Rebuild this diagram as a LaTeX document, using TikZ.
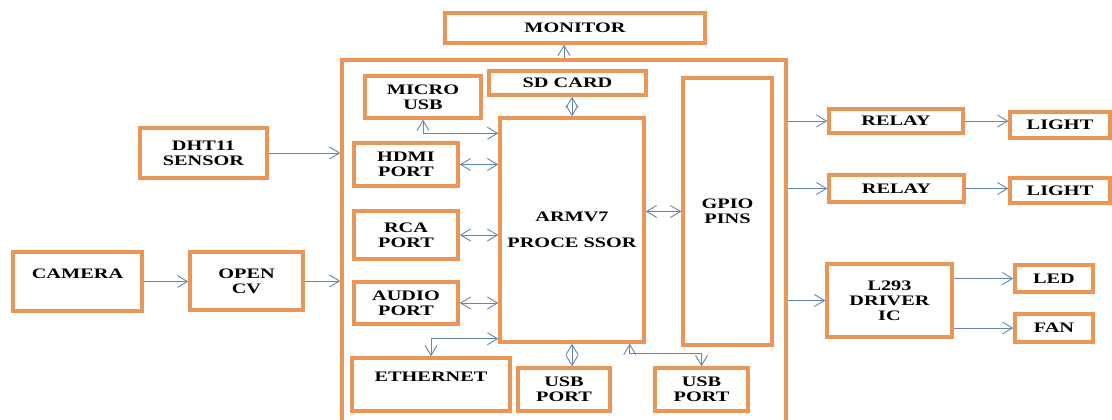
\documentclass[tikz,border=0pt]{standalone}
\usepackage{fontspec}
\setmainfont{Liberation Serif}[FakeStretch=1.4]
\usetikzlibrary{arrows.meta}
\definecolor{boxorange}{RGB}{234,150,86}
\definecolor{linkblue}{RGB}{98,134,180}

\begin{document}
\begin{tikzpicture}[x=1pt, y=-1pt, >={Straight Barb[length=10pt, width=12pt]},
	block/.style={rectangle, draw=boxorange, line width=3.5pt, inner sep=1pt, align=center, font=\fontsize{14.5}{15}\selectfont\bfseries},
	link/.style={draw=linkblue, line width=0.9pt}]
\useasboundingbox (0,0) rectangle (1112,420);
\clip (0,0) rectangle (1112,420);

\path	(564,245)		node(board)		[block, minimum width=444pt, minimum height=370pt]	{}
		(575,28)		node(monitor)	[block, minimum width=260pt, minimum height=30pt]	{MONITOR}
		(567.5,83)		node(sdcard)	[block, minimum width=157pt, minimum height=24pt]	{SD CARD}
		(423,97)		node(microusb)	[block, minimum width=116pt, minimum height=42pt]	{MICRO\\USB}
		(572,230)		node(cpu)		[block, minimum width=144pt, minimum height=224pt]	{ARMV7\\[11pt]PROCE SSOR}
		(727.5,211.5)	node(gpio)		[block, minimum width=89pt, minimum height=267pt]	{GPIO\\PINS}
		(406,164.5)		node(hdmi)		[block, minimum width=104pt, minimum height=43pt]	{HDMI\\PORT}
		(406,235)		node(rca)		[block, minimum width=104pt, minimum height=48pt]	{RCA\\PORT}
		(406,303)		node(audio)		[block, minimum width=104pt, minimum height=42pt]	{AUDIO\\PORT}
		(431,384.5)		node(ethernet)	[block, minimum width=158pt, minimum height=53pt, text depth=15pt]	{ETHERNET}
		(564,389.5)		node(usba)		[block, minimum width=92pt, minimum height=43pt]	{USB\\PORT}
		(701.5,389.5)	node(usbb)		[block, minimum width=93pt, minimum height=43pt]	{USB\\PORT};

\path	(203.5,153)		node(dht)		[block, minimum width=127pt, minimum height=50pt]	{DHT11\\SENSOR}
		(77.5,281.5)	node(camera)	[block, minimum width=129pt, minimum height=59pt, text depth=15pt]	{CAMERA}
		(246.5,281)		node(opencv)	[block, minimum width=113pt, minimum height=58pt]	{OPEN\\CV};

\path	(896,121)		node(relaya)	[block, minimum width=134pt, minimum height=24pt]	{RELAY}
		(1060,125)		node(lighta)	[block, minimum width=100pt, minimum height=26pt]	{LIGHT}
		(896.5,188.5)	node(relayb)	[block, minimum width=135pt, minimum height=27pt]	{RELAY}
		(1060,190.5)	node(lightb)	[block, minimum width=100pt, minimum height=25pt]	{LIGHT}
		(889.5,300.5)	node(driver)	[block, minimum width=125pt, minimum height=73pt]	{L293\\DRIVER\\IC}
		(1054,278.5)	node(led)		[block, minimum width=78pt, minimum height=27pt]	{LED}
		(1054,328)		node(fan)		[block, minimum width=78pt, minimum height=28pt]	{FAN};

\draw[link, ->]		(board.north)					--						(board.north |- monitor.south);
\draw[link, <->]	(cpu.north)						--						(cpu.north |- sdcard.south);
\draw[link, <->]	(microusb.south)				|-						([yshift=-17pt]cpu.north west);
\draw[link, <->]	(hdmi.east)						--						(hdmi.east -| cpu.west);
\draw[link, <->]	(rca.east)						--						(rca.east -| cpu.west);
\draw[link, <->]	(audio.east)					--						(audio.east -| cpu.west);
\draw[link, <->]	(cpu.east |- gpio.west)			--						(gpio.west);
\draw[link, <->]	([yshift=5pt]cpu.south west)	-|						(ethernet.north);
\draw[link, <->]	(cpu.south)						--						(cpu.south |- usba.north);
\draw[link, <->]	([xshift=-16pt]cpu.south east)	-- ++(0,10) -|			(usbb.north);

\draw[link, ->]		(dht.east)						--						(dht.east -| board.west);
\draw[link, ->]		(camera.east)					--						(camera.east -| opencv.west);
\draw[link, ->]		(opencv.east)					--						(opencv.east -| board.west);

\draw[link, ->]		(board.east |- relaya.west)		--						(relaya.west);
\draw[link, ->]		(relaya.east)					--						(relaya.east -| lighta.west);
\draw[link, ->]		(board.east |- relayb.west)		--						(relayb.west);
\draw[link, ->]		(relayb.east)					--						(relayb.east -| lightb.west);
\draw[link, ->]		(board.east |- driver.west)		--						(driver.west);
\draw[link, ->]		(driver.east |- led.west)		--						(led.west);
\draw[link, ->]		(driver.east |- fan.west)		--						(fan.west);
\end{tikzpicture}
\end{document}
